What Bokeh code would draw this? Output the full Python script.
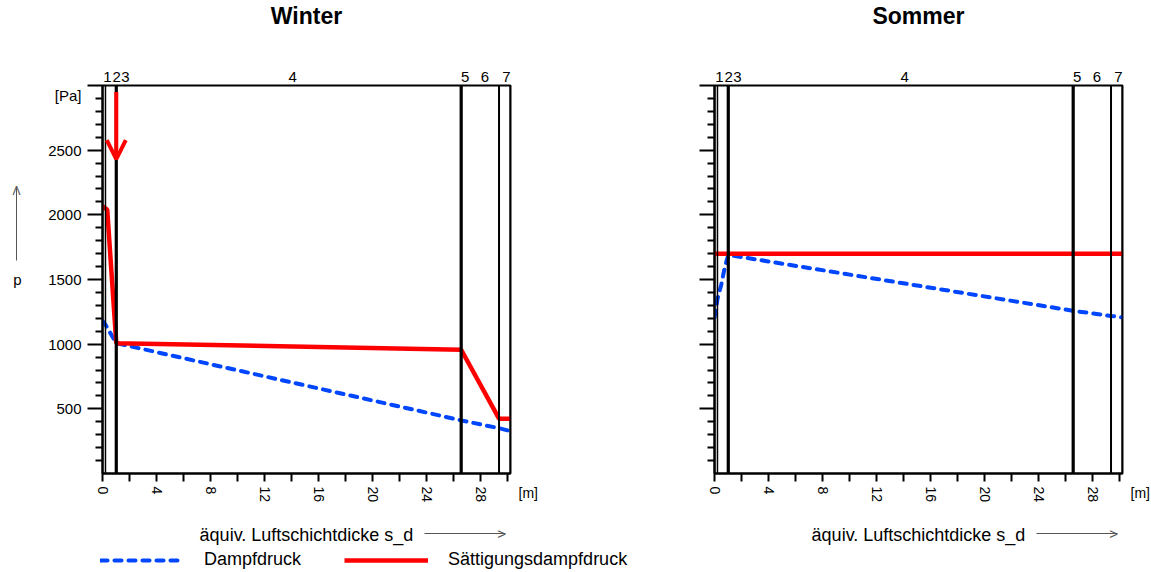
from bokeh.plotting import figure
from bokeh.models import (Range1d, FixedTicker, Span, Arrow, OpenHead,
                          Legend, LegendItem, LinearAxis)
from bokeh.layouts import row, column
from bokeh.embed import file_html
from bokeh.resources import INLINE

# ---------------- data ----------------
titles = ["Winter", "Sommer"]
layer_bounds = [0.0, 0.22, 1.02, 26.55, 29.35, 30.2]
layer_names = ["1", "2", "3", "4", "5", "6", "7"]
layer_label_x = [0.37, 1.05, 1.7, 14.07, 26.85, 28.3, 29.9]

winter_p_x = [0.0, 0.22, 1.02, 26.55, 29.35, 30.0]
winter_p = [1180, 1150, 1008, 411, 350, 333]
winter_psat_x = [0.0, 0.35, 1.02, 26.55, 29.35, 30.2]
winter_psat = [2065, 2040, 1008, 957, 424, 424]

summer_p_x = [0.0, 0.22, 0.5, 0.75, 1.02, 26.55, 29.35, 30.2]
summer_p = [1205, 1350, 1460, 1590, 1690, 1258, 1218, 1207]
summer_psat_x = [0.0, 30.2]
summer_psat = [1700, 1700]

cond_x = 1.02          # condensation plane marker
cond_top, cond_tip = 2950, 2430

x_major = [0, 4, 8, 12, 16, 20, 24, 28]
x_minor = [2, 6, 10, 14, 18, 22, 26, 30]
y_major = [500, 1000, 1500, 2000, 2500, 3000]
y_minor = [v for v in range(100, 3000, 100) if v % 500 != 0]

x_title = "äquiv. Luftschichtdicke s_d"
y_title = "p"
y_unit = "[Pa]"
x_unit = "[m]"
legend_labels = ["Dampfdruck", "Sättigungsdampfdruck"]

# decorative arrows beside the axis titles (extent in data units)
x_arrow_span = (23.8, 29.85)
y_arrow_span = (1650, 2212)

# ---------------- style ----------------
FONT = "Liberation Sans"
BLUE = "#0046FF"
RED = "#FF0000"
GREY = "#555555"
layer_widths = [1.5, 1.5, 3.2, 3.2, 2, 2]


def bare_axis(axis, color=None, width=1):
    axis.axis_line_color = color
    axis.axis_line_width = width
    axis.major_tick_line_color = None
    axis.minor_tick_line_color = None
    axis.major_tick_in = 0
    axis.major_tick_out = 0
    axis.minor_tick_in = 0
    axis.minor_tick_out = 0
    axis.major_label_text_font = FONT
    axis.major_label_text_color = "black"
    axis.axis_label_text_font = FONT
    axis.axis_label_text_font_style = "normal"
    axis.axis_label_text_color = "black"
    return axis


def make_fig(title, p_x, p, psat_x, psat, right_border, winter):
    f = figure(frame_width=408, frame_height=388,
               min_border_left=102, min_border_right=right_border,
               min_border_top=85, min_border_bottom=75,
               x_range=Range1d(0, 30.2), y_range=Range1d(0, 3000),
               output_backend="svg", toolbar_location=None, title=title)
    f.background_fill_color = "white"
    f.border_fill_color = "white"
    f.outline_line_color = "black"
    f.outline_line_width = 2
    f.xgrid.visible = False
    f.ygrid.visible = False

    f.title.align = "center"
    f.title.vertical_align = "top"
    f.title.text_font = FONT
    f.title.text_font_size = "23px"
    f.title.text_font_style = "bold"
    f.title.text_color = "black"
    f.title.standoff = 0

    xa = f.below[0]
    ya = f.left[0]

    # layer names above the frame (axis label is an empty spacer)
    top = bare_axis(LinearAxis(ticker=FixedTicker(ticks=layer_label_x)))
    top.major_label_overrides = {v: n for v, n in zip(layer_label_x, layer_names)}
    top.major_label_standoff = 4
    top.major_label_text_font_size = "15px"
    top.axis_label = " "
    top.axis_label_text_font_size = "2px"
    top.axis_label_standoff = 33
    f.add_layout(top, "above")

    # main x axis (ticks + vertical labels); invisible label keeps the room
    xa.ticker = FixedTicker(ticks=x_major, minor_ticks=x_minor)
    xa.axis_line_width = 2
    xa.major_tick_line_width = 2
    xa.minor_tick_line_width = 2
    xa.major_tick_in = 0
    xa.major_tick_out = 8
    xa.minor_tick_in = 0
    xa.minor_tick_out = 8
    xa.major_label_orientation = "vertical"
    xa.major_label_standoff = 5
    xa.major_label_text_font = FONT
    xa.major_label_text_font_size = "14px"
    xa.major_label_text_color = "black"
    xa.axis_label = " "
    xa.axis_label_text_font = FONT
    xa.axis_label_text_font_size = "18px"
    xa.axis_label_standoff = 5

    # x title + arrow: bounded axis line is the shaft, ">" the head
    head_x = x_arrow_span[1] - 0.3
    xarrow = bare_axis(LinearAxis(bounds=x_arrow_span,
                                  ticker=FixedTicker(ticks=[head_x])), GREY, 1)
    xarrow.major_label_overrides = {head_x: ">"}
    xarrow.major_label_text_color = GREY
    xarrow.major_label_text_font_size = "15px"
    xarrow.major_label_standoff = -9
    xarrow.axis_label = x_title
    xarrow.axis_label_text_font_size = "18px"
    xarrow.axis_label_standoff = -20
    f.add_layout(xarrow, "below")

    # unit of x at the right end of the tick labels
    unit_ax = bare_axis(LinearAxis(ticker=FixedTicker(ticks=[0])))
    unit_ax.major_label_overrides = {0: "\n\n" + x_unit}
    unit_ax.major_label_standoff = 8
    unit_ax.major_label_text_font_size = "14px"
    f.add_layout(unit_ax, "right")

    ya.ticker = FixedTicker(ticks=y_major, minor_ticks=y_minor)
    ya.axis_line_width = 2
    ya.major_tick_line_width = 2
    ya.minor_tick_line_width = 2
    ya.major_tick_in = 0
    ya.major_tick_out = 15
    ya.minor_tick_in = 0
    ya.minor_tick_out = 7
    ya.major_label_standoff = 6
    ya.major_label_text_font = FONT
    ya.major_label_text_font_size = "15px"
    if winter:
        ya.major_label_overrides = {3000: "\n" + y_unit}
        ya.major_label_text_color = "black"
        ya.axis_label = " "
        ya.axis_label_orientation = "horizontal"
        ya.axis_label_text_font = FONT
        ya.axis_label_text_font_size = "15px"
        ya.axis_label_standoff = 21
        # y title "p" with upward arrow above it
        head_y = y_arrow_span[1] - 31
        yarrow = bare_axis(LinearAxis(bounds=y_arrow_span,
                                      ticker=FixedTicker(ticks=[head_y])), GREY, 1)
        yarrow.major_label_overrides = {head_y: "\u039b"}
        yarrow.major_label_text_color = GREY
        yarrow.major_label_text_font_size = "12px"
        yarrow.major_label_standoff = -4
        yarrow.axis_label = y_title
        yarrow.axis_label_orientation = "horizontal"
        yarrow.axis_label_text_font_size = "15px"
        yarrow.axis_label_standoff = -12
        f.add_layout(yarrow, "left")
    else:
        ya.major_label_text_color = None

    for b, w in zip(layer_bounds, layer_widths):
        f.add_layout(Span(location=b, dimension="height", line_color="black",
                          line_width=w))

    blue = f.line(p_x, p, line_color=BLUE, line_width=4, line_dash="7 7",
                  line_cap="round")
    red = f.line(psat_x, psat, line_color=RED, line_width=4.5)
    return f, blue, red


f1, b1, r1 = make_fig(titles[0], winter_p_x, winter_p, winter_psat_x, winter_psat,
                      102, True)
f2, b2, r2 = make_fig(titles[1], summer_p_x, summer_p, summer_psat_x, summer_psat,
                      29, False)

# condensation arrow (winter)
f1.add_layout(Arrow(end=OpenHead(size=19, line_color=RED, line_width=4),
                    x_start=cond_x, y_start=cond_top, x_end=cond_x, y_end=cond_tip,
                    line_color=RED, line_width=4))

# legend strip below both plots (sample renderers lie outside its view)
lf = figure(width=1151, height=24, x_range=Range1d(0, 1), y_range=Range1d(0, 1),
            min_border=0, output_backend="svg", toolbar_location=None,
            x_axis_location=None, y_axis_location=None)
lf.outline_line_color = None
lf.xgrid.visible = False
lf.ygrid.visible = False
lb = lf.line([-3, -2], [-3, -2], line_color=BLUE, line_width=4, line_dash="7 7",
             line_cap="round")
lr = lf.line([-3, -2], [-3, -2], line_color=RED, line_width=4.5)
legend = Legend(items=[LegendItem(label=legend_labels[0], renderers=[lb]),
                       LegendItem(label=legend_labels[1], renderers=[lr])],
                location=(100, 2), orientation="horizontal",
                glyph_width=84, glyph_height=20, label_height=20,
                label_standoff=20, spacing=43, padding=0, margin=0,
                label_text_font=FONT, label_text_font_size="18px",
                label_text_color="black",
                border_line_color=None, background_fill_alpha=0)
lf.add_layout(legend)

layout = column(row(f1, f2), lf)
open("out.html", "w").write(file_html(layout, INLINE))
